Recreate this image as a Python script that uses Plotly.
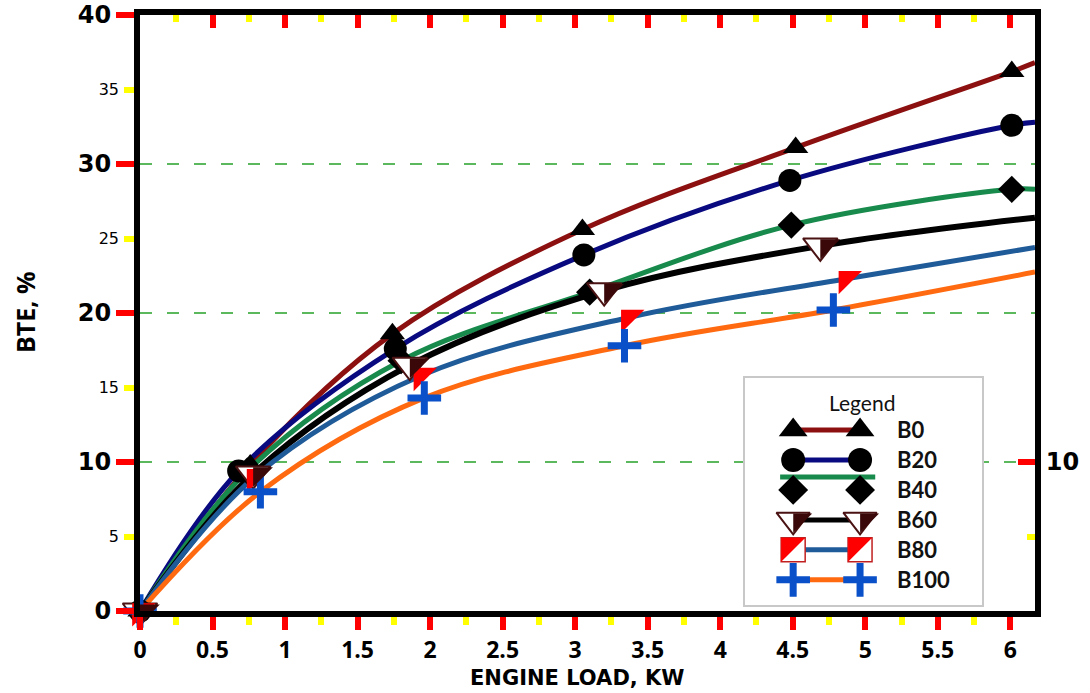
import plotly.graph_objects as go

# ---- data: brake thermal efficiency vs engine load for each blend ----
series_names = ["B0", "B20", "B40", "B60", "B80", "B100"]

load_b0 = [0, 0.76, 1.74, 3.05, 4.52, 6.01]
bte_b0 = [0, 9.8, 18.6, 25.6, 31.1, 36.2]

load_b20 = [0, 0.68, 1.76, 3.06, 4.48, 6.01]
bte_b20 = [0, 9.4, 17.6, 23.9, 28.9, 32.6]

load_b40 = [0, 0.74, 1.80, 3.10, 4.49, 6.01]
bte_b40 = [0, 9.4, 16.8, 21.4, 25.9, 28.3]

load_b60 = [0, 0.78, 1.86, 3.20, 4.69]
bte_b60 = [0, 9.2, 16.5, 21.5, 24.5]

load_b80 = [0, 0.79, 1.94, 3.37, 4.87]
bte_b80 = [0, 9.0, 15.8, 19.7, 22.3]

load_b100 = [0, 0.83, 1.96, 3.34, 4.78]
bte_b100 = [0, 8.0, 14.3, 17.8, 20.2]

# value of each smoothed curve where it meets the right-hand frame
edge_load = 6.17
edge_bte = [36.8, 32.8, 28.3, 26.4, 24.4, 22.75]

x_ticks = [0, 0.5, 1, 1.5, 2, 2.5, 3, 3.5, 4, 4.5, 5, 5.5, 6]
x_tick_text = ["0", "0.5", "1", "1.5", "2", "2.5", "3", "3.5", "4", "4.5", "5", "5.5", "6"]
x_minor = [0.25, 0.75, 1.25, 1.75, 2.25, 2.75, 3.25, 3.75, 4.25, 4.75, 5.25, 5.75]
y_major = [0, 10, 20, 30, 40]
y_minor = [5, 15, 25, 35]

loads = [load_b0, load_b20, load_b40, load_b60, load_b80, load_b100]
btes = [bte_b0, bte_b20, bte_b40, bte_b60, bte_b80, bte_b100]

line_colors = ["#8c1010", "#0a0a80", "#178a4c", "#000000", "#1f5b98", "#ff6a10"]
line_widths = [5, 5, 5, 6, 5, 5]

RED = "#ff0000"
YELLOW = "#ffff00"
BROWN = "#3a0808"

W, H = 1090, 693
M_L, M_R, M_T, M_B = 140, 55, 15, 82
PLOT_W = W - M_L - M_R
PLOT_H = H - M_T - M_B

marker_styles = [
    dict(symbol="triangle-up", size=22, color="black", line=dict(width=0)),
    dict(symbol="circle", size=23, color="black", line=dict(width=0)),
    dict(symbol="diamond", size=21, color="black", line=dict(width=0)),
    dict(symbol="triangle-down", size=30, color="white", line=dict(width=2, color="#4a1212")),
    dict(symbol="triangle-nw", size=26, color="#ff0000", line=dict(width=0)),
    dict(symbol="cross-thin", size=24, color="#0a50c8",
         line=dict(width=7, color="#0a50c8")),
]

fig = go.Figure()

# smoothed curves
for name, xs, ys, end, col, lw in zip(series_names, loads, btes, edge_bte,
                                       line_colors, line_widths):
    fig.add_trace(go.Scatter(
        x=xs + [edge_load], y=ys + [end], mode="lines", name=name,
        line=dict(color=col, width=lw, shape="spline", smoothing=1.0),
        showlegend=False, hoverinfo="skip", xaxis="x", yaxis="y",
    ))

# measured points (drawn on the overlay axes so they sit above every curve)
for name, xs, ys, mk in zip(series_names, loads, btes, marker_styles):
    fig.add_trace(go.Scatter(
        x=xs, y=ys, mode="markers", name=name, marker=mk,
        showlegend=False, cliponaxis=False, xaxis="x2", yaxis="y2",
    ))
    if name == "B60":
        # dark right half of the inverted-triangle symbol; its axis is
        # offset by a few pixels so the half sits on the right side
        fig.add_trace(go.Scatter(
            x=xs, y=ys, mode="markers", name=name + " shade",
            marker=dict(symbol="triangle-nw", size=22, color=BROWN, line=dict(width=0)),
            showlegend=False, cliponaxis=False, hoverinfo="skip",
            xaxis="x5", yaxis="y2",
        ))

# placeholder trace so the small-label axis is drawn
fig.add_trace(go.Scatter(x=[None], y=[None], xaxis="x", yaxis="y3",
                         showlegend=False, hoverinfo="skip"))

# ---- hand-drawn legend panel (marker - line - marker glyphs) ----
LEG_W, LEG_H = 237, 227
leg_left, leg_right = 0.203, 0.485
row_y = [0.771 - i * 0.132 for i in range(len(series_names))]
leg_marker_styles = [
    dict(symbol="triangle-up", size=25, color="black"),
    dict(symbol="circle", size=24, color="black"),
    dict(symbol="diamond", size=23, color="black"),
    dict(symbol="triangle-down", size=29, color="white", line=dict(width=2, color="#4a1212")),
    dict(symbol="square", size=24, color="white", line=dict(width=1.5, color="#c02020")),
    dict(symbol="cross-thin", size=24, color="#0a50c8", line=dict(width=7, color="#0a50c8")),
]
for i, (name, col, mk) in enumerate(zip(series_names, line_colors, leg_marker_styles)):
    yy = row_y[i]
    if name == "B40":
        fig.add_trace(go.Scatter(x=[0.148, 0.549], y=[yy + 0.057] * 2, mode="lines",
                                 line=dict(color=col, width=5), showlegend=False,
                                 hoverinfo="skip", xaxis="x4", yaxis="y4"))
    else:
        fig.add_trace(go.Scatter(x=[leg_left, leg_right], y=[yy, yy], mode="lines",
                                 line=dict(color=col, width=5), showlegend=False,
                                 hoverinfo="skip", xaxis="x4", yaxis="y4"))
    fig.add_trace(go.Scatter(x=[leg_left, leg_right], y=[yy, yy], mode="markers",
                             marker=mk, showlegend=False, hoverinfo="skip",
                             cliponaxis=False, xaxis="x4", yaxis="y4"))
    if name == "B60":
        dx = 6.4 / LEG_W
        fig.add_trace(go.Scatter(x=[leg_left + dx, leg_right + dx], y=[yy, yy],
                                 mode="markers",
                                 marker=dict(symbol="triangle-nw", size=21, color=BROWN),
                                 showlegend=False, hoverinfo="skip", cliponaxis=False,
                                 xaxis="x4", yaxis="y4"))
    if name == "B80":
        # red upper-left half of the square glyph
        dx, dy = 4 / LEG_W, 4 / LEG_H
        fig.add_trace(go.Scatter(x=[leg_left - dx, leg_right - dx], y=[yy + dy, yy + dy],
                                 mode="markers",
                                 marker=dict(symbol="triangle-nw", size=26.5, color="#ff0000"),
                                 showlegend=False, hoverinfo="skip", cliponaxis=False,
                                 xaxis="x4", yaxis="y4"))
    fig.add_annotation(x=0.633, y=yy, xref="x4", yref="y4", text=name, showarrow=False,
                       xanchor="left", yanchor="middle",
                       font=dict(family="Lato", size=22, color="#111111", weight="bold"))

fig.add_annotation(x=0.494, y=0.894, xref="x4", yref="y4", text="Legend", showarrow=False,
                   xanchor="center", yanchor="middle",
                   font=dict(family="Lato", size=21, color="#111111"))

# axis titles, placed in paper coordinates below / left of the frame
fig.add_annotation(x=(577 - M_L) / PLOT_W, y=-(678 - (H - M_B)) / PLOT_H,
                   xref="paper", yref="paper", text="ENGINE LOAD, KW", showarrow=False,
                   xanchor="center", yanchor="middle",
                   font=dict(family="DejaVu Sans", size=21, color="black", weight="bold"))
fig.add_annotation(x=-(M_L - 25) / PLOT_W, y=0.5, xref="paper", yref="paper",
                   text="BTE, %", showarrow=False, textangle=-90,
                   xanchor="center", yanchor="middle",
                   font=dict(family="Open Sans", size=25, color="black", weight="bold"))

x_range = [0, edge_load]
y_range = [0, 40]
# shade axis: same scale as the data axis, shifted 6.6 px to the right
px_per_unit = PLOT_W / (x_range[1] - x_range[0])
shade_shift = 6.6 / px_per_unit
x5_range = [x_range[0] - shade_shift, x_range[1] - shade_shift]

fig.update_layout(
    width=W, height=H,
    margin=dict(l=M_L, r=M_R, t=M_T, b=M_B, autoexpand=False),
    paper_bgcolor="white", plot_bgcolor="white",
    showlegend=False,
    xaxis=dict(
        range=x_range, domain=[0, 1], anchor="y", automargin=False,
        showline=True, linecolor="black", linewidth=6, zeroline=False, showgrid=False,
        tickmode="array", tickvals=x_ticks, ticktext=x_tick_text,
        ticks="outside", ticklen=13, tickwidth=6, tickcolor=RED,
        minor=dict(tickmode="array", tickvals=x_minor, ticks="outside",
                   ticklen=8, tickwidth=6, tickcolor=YELLOW, showgrid=False),
        tickfont=dict(family="Open Sans", size=23, color="black", weight="bold"),
    ),
    xaxis2=dict(
        range=x_range, overlaying="x", side="top", anchor="y2", automargin=False,
        showline=True, linecolor="black", linewidth=6, zeroline=False, showgrid=False,
        tickmode="array", tickvals=x_ticks, showticklabels=False,
        ticks="inside", ticklen=13, tickwidth=6, tickcolor=RED,
        minor=dict(tickmode="array", tickvals=x_minor, ticks="inside",
                   ticklen=7, tickwidth=6, tickcolor=YELLOW, showgrid=False),
    ),
    xaxis5=dict(
        range=x5_range, overlaying="x", visible=False, anchor="y2", automargin=False,
    ),
    yaxis=dict(
        range=y_range, domain=[0, 1], anchor="x", automargin=False,
        showline=True, linecolor="black", linewidth=6, zeroline=False,
        tickmode="array", tickvals=y_major, ticktext=[str(v) for v in y_major],
        ticks="outside", ticklen=18, tickwidth=6, tickcolor=RED,
        showgrid=True, gridcolor="#5cb85c", gridwidth=1.5, griddash="12px,15px",
        minor=dict(tickmode="array", tickvals=y_minor, ticks="outside",
                   ticklen=10, tickwidth=6, tickcolor=YELLOW, showgrid=False),
        tickfont=dict(family="DejaVu Sans", size=24, color="black", weight="bold"),
    ),
    yaxis2=dict(
        range=y_range, overlaying="y", side="right", anchor="x2", automargin=False,
        showline=True, linecolor="black", linewidth=6, zeroline=False, showgrid=False,
        tickmode="array", tickvals=[10], ticktext=["10"],
        ticks="inside", ticklen=17, tickwidth=6, tickcolor=RED,
        minor=dict(tickmode="array", tickvals=[5], ticks="inside",
                   ticklen=8, tickwidth=6, tickcolor=YELLOW, showgrid=False),
        tickfont=dict(family="DejaVu Sans", size=24, color="black", weight="bold"),
    ),
    yaxis3=dict(
        range=y_range, overlaying="y", side="left", anchor="x", automargin=False,
        showline=False, zeroline=False, showgrid=False,
        tickmode="array", tickvals=y_minor, ticktext=[str(v) for v in y_minor],
        ticks="", ticklabelstandoff=20,
        tickfont=dict(family="DejaVu Sans", size=16, color="black"),
    ),
    xaxis4=dict(
        range=[0, 1], domain=[0.676, 0.941], anchor="y4", automargin=False,
        showline=True, mirror=True, linecolor="#c8c8c8", linewidth=1.5,
        showgrid=False, zeroline=False, showticklabels=False, ticks="", fixedrange=True,
    ),
    yaxis4=dict(
        range=[0, 1], domain=[0.01, 0.391], anchor="x4", automargin=False,
        showline=True, mirror=True, linecolor="#c8c8c8", linewidth=1.5,
        showgrid=False, zeroline=False, showticklabels=False, ticks="", fixedrange=True,
    ),
)

fig.write_html("out.html")
